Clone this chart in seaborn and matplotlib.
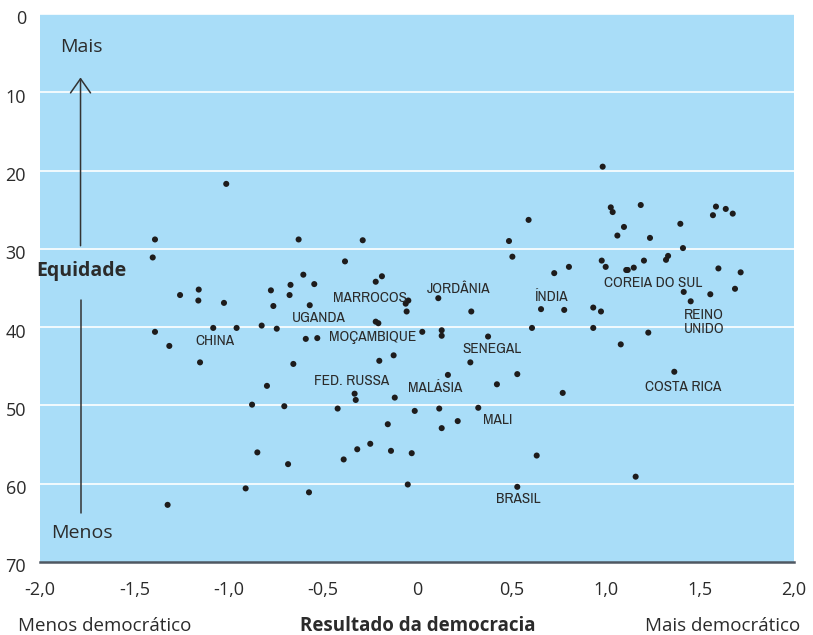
import seaborn as sns
import matplotlib.pyplot as plt
import pandas as pd
from matplotlib import font_manager as fm
from matplotlib.transforms import ScaledTranslation

# democracy outcome (x) vs equity (y, inverted axis)
democracia = [
    -1.012, -1.390, -1.402, -1.257, -1.158, -1.160, -1.024, -0.775, -0.762, -0.671,
    -0.676, -1.390, -1.081, -0.957, -0.824, -0.744, -0.628, -0.288, -0.382, -0.603,
    -0.545, -0.186, -0.219, -0.569, -0.046, -0.060, -0.055, 0.113, -0.219, -0.205,
    0.028, 0.131, 0.131, 0.592, 0.488, 0.506, 0.806, 0.728, 0.288, 0.658,
    0.781, 0.935, 0.976, 0.610, 0.935, 0.985, 1.028, 1.038, 1.187, 1.098,
    1.063, 1.236, 1.397, 1.586, 1.638, 1.675, 1.570, 1.411, 0.980, 1.001,
    1.110, 1.118, 1.150, 1.204, 1.332, 1.321, 1.599, 1.717, 1.415, 1.452,
    1.556, 1.687, 1.227, -1.314, -1.151, -0.796, -0.875, -0.704, -0.847, -0.684,
    -0.909, -1.323, -0.590, -0.529, -0.656, -0.200, -0.124, -0.331, -0.325, -0.118,
    -0.421, -0.012, 0.118, 0.131, -0.155, -0.248, -0.317, -0.138, -0.028, -0.389,
    -0.573, -0.049, 0.377, 0.283, 0.164, 0.532, 0.424, 0.773, 0.325, 0.216,
    0.635, 0.532, 1.081, 1.365, 1.160,
]
equidade = [
    21.7, 28.8, 31.1, 35.9, 35.2, 36.6, 36.9, 35.3, 37.3, 34.6,
    35.9, 40.6, 40.1, 40.1, 39.8, 40.2, 28.8, 28.9, 31.6, 33.3,
    34.5, 33.5, 34.2, 37.2, 36.6, 37.0, 38.0, 36.3, 39.3, 39.5,
    40.6, 40.4, 41.1, 26.3, 29.0, 31.0, 32.3, 33.1, 38.0, 37.7,
    37.8, 37.5, 38.0, 40.1, 40.1, 19.5, 24.7, 25.3, 24.4, 27.2,
    28.3, 28.6, 26.8, 24.6, 24.9, 25.5, 25.7, 29.9, 31.5, 32.3,
    32.7, 32.7, 32.4, 31.5, 30.9, 31.4, 32.5, 33.0, 35.5, 36.7,
    35.8, 35.1, 40.7, 42.4, 44.5, 47.5, 49.9, 50.1, 56.0, 57.5,
    60.6, 62.7, 41.5, 41.4, 44.7, 44.3, 43.6, 48.5, 49.3, 49.0,
    50.4, 50.7, 50.4, 52.9, 52.4, 54.9, 55.6, 55.8, 56.1, 56.9,
    61.1, 60.1, 41.2, 44.5, 46.1, 46.0, 47.3, 48.4, 50.3, 52.0,
    56.4, 60.4, 42.2, 45.7, 59.1,
]

paises = ["CHINA", "UGANDA", "MOÇAMBIQUE", "MARROCOS", "FED. RUSSA", "MALÁSIA",
          "JORDÂNIA", "SENEGAL", "MALI", "BRASIL", "ÍNDIA", "COREIA DO SUL",
          "REINO\nUNIDO", "COSTA RICA"]
# label anchors (left, vertical centre)
pais_x = [-1.178, -0.663, -0.467, -0.446, -0.546, -0.048, 0.053, 0.239, 0.350, 0.419,
          0.621, 0.992, 1.416, 1.210]
pais_y = [41.8, 38.8, 41.3, 36.3, 46.9, 47.8, 35.1, 42.8, 51.8, 62.0,
          36.2, 34.3, 39.4, 47.6]

xticks = [-2.0, -1.5, -1.0, -0.5, 0.0, 0.5, 1.0, 1.5, 2.0]
xlabels = ["-2,0", "-1,5", "-1,0", "-0,5", "0", "0,5", "1,0", "1,5", "2,0"]
yticks = [0, 10, 20, 30, 40, 50, 60, 70]

df = pd.DataFrame({"x": democracia, "y": equidade})

sns.set_theme(style="white")
plt.rcParams['font.family'] = ['Open Sans', 'DejaVu Sans']

# narrow face for country names if one is installed
narrow = None
for f in fm.fontManager.ttflist:
    if ('Narrow' in f.name or 'Condensed' in f.name) and 'Bold' not in f.name \
            and f.style == 'normal' and f.weight in (400, 'normal', 'regular'):
        narrow = f
        break
if narrow is not None:
    lab_kw = dict(fontproperties=fm.FontProperties(fname=narrow.fname, size=11))
else:
    lab_kw = dict(family='DejaVu Sans', fontsize=9, fontstretch='condensed')

txt = '#2b2b2b'
fig = plt.figure(figsize=(8.13, 6.35), dpi=100)
ax = fig.add_axes([40 / 813, 73 / 635, 754 / 813, 548 / 635])
ax.set_facecolor('#a9ddf8')

sns.scatterplot(data=df, x="x", y="y", ax=ax, color='#1e1c1c', s=19,
                edgecolor='none', zorder=3, legend=False)

ax.set_xlim(-2, 2)
ax.set_ylim(70, 0)
ax.set_xticks(xticks)
ax.set_xticklabels(xlabels)
ax.set_yticks(yticks)
ax.set_yticklabels([str(v) for v in yticks])
ax.tick_params(axis='x', length=0, pad=14, labelsize=13, labelcolor=txt)
ax.tick_params(axis='y', length=0, pad=10, labelsize=13, labelcolor=txt)
ax.set_xlabel("")
ax.set_ylabel("")
for lab in ax.get_yticklabels():
    lab.set_transform(lab.get_transform() + ScaledTranslation(0, -2.5 / 72, fig.dpi_scale_trans))

for v in yticks[:-1]:
    ax.axhline(v, color='white', lw=1.2, zorder=1)

for s in ['top', 'right', 'left']:
    ax.spines[s].set_visible(False)
ax.spines['bottom'].set_color('#4f5862')
ax.spines['bottom'].set_linewidth(1.8)

for name, px, py in zip(paises, pais_x, pais_y):
    ax.text(px, py, name, ha='left', va='center', color=txt,
            linespacing=1.0, zorder=4, **lab_kw)

# equity arrow
ax.annotate('', xy=(-1.785, 8.1), xytext=(-1.785, 29.6),
            arrowprops=dict(arrowstyle='->,head_length=0.85,head_width=0.6',
                            lw=1.1, color='#333333', shrinkA=0, shrinkB=0))
ax.plot([-1.785, -1.785], [36.5, 63.8], color='#333333', lw=1.1)
ax.text(-1.78, 4.9, "Mais", ha='center', va='baseline', fontsize=14, color=txt)
ax.text(-1.78, 33.5, "Equidade", ha='center', va='baseline', fontsize=14,
        fontweight='bold', color=txt)
ax.text(-1.78, 66.9, "Menos", ha='center', va='baseline', fontsize=14, color=txt)

fig.text(18 / 813, 4 / 635, "Menos democrático", ha='left', va='baseline',
         fontsize=13.5, color=txt)
fig.text(418 / 813, 4 / 635, "Resultado da democracia", ha='center', va='baseline',
         fontsize=13.5, fontweight='bold', color=txt)
fig.text(800 / 813, 4 / 635, "Mais democrático", ha='right', va='baseline',
         fontsize=13.5, color=txt)

fig.savefig('out.png', dpi=100)
